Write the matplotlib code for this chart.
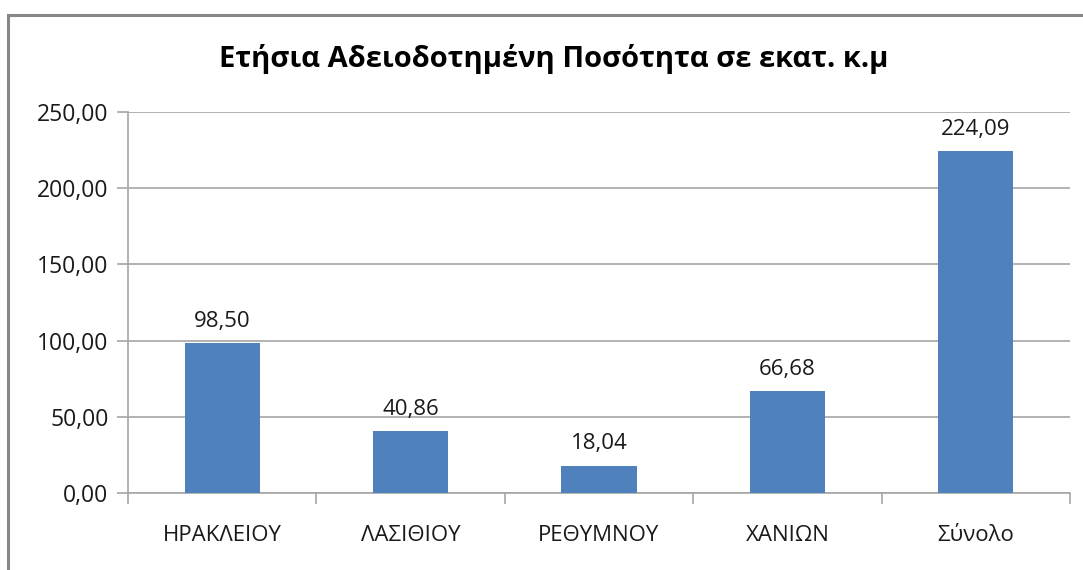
import matplotlib
matplotlib.use('Agg')
import matplotlib.pyplot as plt
from matplotlib.patches import Rectangle
from matplotlib.ticker import FuncFormatter, FixedLocator

plt.rcParams['font.family'] = ['Open Sans', 'DejaVu Sans']

categories = ['ΗΡΑΚΛΕΙΟΥ', 'ΛΑΣΙΘΙΟΥ', 'ΡΕΘΥΜΝΟΥ', 'ΧΑΝΙΩΝ', 'Σύνολο']
values = [98.50, 40.86, 18.04, 66.68, 224.09]
yticks = [0, 50, 100, 150, 200, 250]
title = 'Ετήσια Αδειοδοτημένη Ποσότητα σε εκατ. κ.μ'

W, H = 1083, 570
fig = plt.figure(figsize=(W / 100, H / 100), dpi=100)
ax = fig.add_axes([128 / W, 1 - 493 / H, 942 / W, 381 / H])

grid_col = '#a6a6a6'
bar_col = '#4f81bd'


def comma(v, pos=None):
    return '{:.2f}'.format(v).replace('.', ',')


x = list(range(len(categories)))
bars = ax.bar(x, values, width=0.4, color=bar_col, zorder=3)
ax.bar_label(bars, labels=[comma(v) for v in values], padding=8,
             fontsize=16, color='#1a1a1a')

ax.set_xlim(-0.5, len(categories) - 0.5)
ax.set_ylim(0, 250)
ax.yaxis.set_major_locator(FixedLocator(yticks))
ax.yaxis.set_major_formatter(FuncFormatter(comma))
ax.grid(axis='y', color=grid_col, lw=1.2, zorder=0)

ax.set_xticks(x)
ax.set_xticklabels(categories)
ax.tick_params(axis='x', length=0, pad=23, labelsize=16, labelcolor='#1a1a1a')
ax.set_xticks([i - 0.5 for i in range(len(categories) + 1)], minor=True)
ax.tick_params(axis='x', which='minor', length=8, width=1.2, color=grid_col)
ax.tick_params(axis='y', length=8, width=1.2, color=grid_col, pad=6,
               labelsize=16.5, labelcolor='#1a1a1a')

for side in ['top', 'right']:
    ax.spines[side].set_visible(False)
for side in ['left', 'bottom']:
    ax.spines[side].set_color(grid_col)
    ax.spines[side].set_linewidth(1.2)

fig.text(554 / W, 1 - 59 / H, title, ha='center', va='center',
         fontsize=21, fontweight='bold', color='black')

# outer chart frame
fig.patches.append(Rectangle((8 / W, -0.1), 1.2, 1 - 15 / H + 0.1,
                             transform=fig.transFigure, fill=False,
                             edgecolor='#878787', lw=2.2))

fig.savefig('out.png', dpi=100)
